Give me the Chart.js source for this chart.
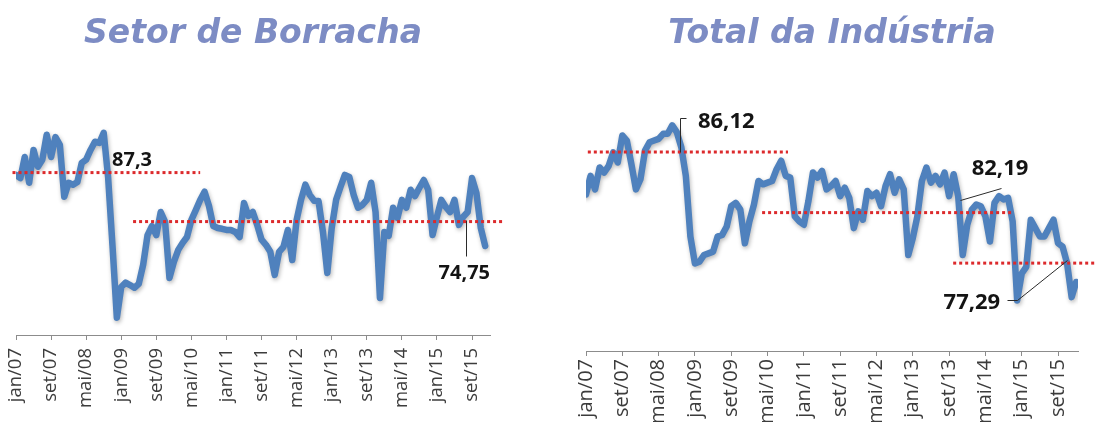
<!DOCTYPE html>
<html lang="pt-BR">
<head>
<meta charset="utf-8">
<title>Setor de Borracha / Total da Indústria</title>
<script src="https://cdn.jsdelivr.net/npm/chart.js@4.4.1/dist/chart.umd.min.js"></script>
<style>
  html, body { margin: 0; padding: 0; background: #fff; }
  #wrap { position: relative; width: 1096px; height: 422px; }
  .box { position: absolute; top: 0; width: 548px; height: 422px; }
  #left { left: 0; }
  #right { left: 548px; }
</style>
</head>
<body>
<div id="wrap">
  <div class="box" id="left"><canvas id="borracha"></canvas></div>
  <div class="box" id="right"><canvas id="industria"></canvas></div>
</div>
<script>
const MONTHS = ["jan", "fev", "mar", "abr", "mai", "jun", "jul", "ago", "set", "out", "nov", "dez"];

// one label every 8 months, starting at jan/07
const TICK_LABELS = [
    "jan/07", "set/07", "mai/08", "jan/09", "set/09", "mai/10", "jan/11",
    "set/11", "mai/12", "jan/13", "set/13", "mai/14", "jan/15", "set/15",
];
const TICK_EVERY = 8;

// jan/07 .. dez/15
const BORRACHA = [
    86.7, 85.9, 91.3, 84.7, 93.1, 88.8, 90.6, 97.0, 91.3, 96.4, 94.4, 81.1,
    84.7, 84.2, 84.9, 89.8, 90.6, 93.1, 95.2, 94.9, 97.5, 86.2, 68.7, 50.1,
    58.0, 59.1, 58.5, 57.8, 58.8, 63.7, 71.3, 73.6, 71.3, 77.2, 74.7, 60.3,
    64.4, 67.5, 69.3, 70.8, 75.2, 77.7, 80.3, 82.4, 78.8, 73.6, 73.1, 72.9,
    72.6, 72.6, 72.1, 70.8, 79.5, 76.2, 77.2, 73.9, 70.1, 68.8, 67.0, 61.1,
    67.0, 68.3, 72.6, 64.9, 75.2, 80.3, 84.2, 81.6, 80.1, 80.0, 72.1, 61.6,
    73.1, 80.3, 83.6, 86.7, 86.2, 81.6, 78.3, 79.0, 80.3, 84.7, 77.2, 55.2,
    72.1, 71.1, 78.3, 75.7, 80.3, 78.3, 82.9, 81.3, 83.4, 85.4, 82.9, 71.3,
    76.0, 80.3, 78.5, 77.2, 80.3, 73.9, 76.0, 77.2, 85.9, 82.1, 73.1, 68.5,
];
const BORRACHA_AVG = [87.3, 74.75];
const BORRACHA_AVG_SPAN = [[-0.8, 42], [26.7, 111.5]];
const BORRACHA_NOTES = ["87,3", "74,75"];

// jan/07 .. jan/16
const INDUSTRIA = [
    83.6, 84.7, 83.9, 85.2, 84.9, 85.3, 86.1, 85.5, 87.1, 86.8, 85.4, 83.9,
    84.5, 86.2, 86.7, 86.8, 86.9, 87.2, 87.2, 87.7, 87.3, 86.4, 84.7, 81.1,
    79.5, 79.6, 80.0, 80.1, 80.2, 81.1, 81.2, 81.7, 82.9, 83.1, 82.7, 80.7,
    82.0, 83.0, 84.4, 84.2, 84.3, 84.4, 85.1, 85.6, 84.7, 84.6, 82.3, 82.0,
    81.8, 83.2, 84.9, 84.6, 85.0, 83.9, 84.1, 84.4, 83.5, 84.0, 83.4, 81.6,
    82.6, 82.1, 83.8, 83.5, 83.7, 82.9, 84.1, 84.8, 83.7, 84.5, 83.9, 80.0,
    81.0, 82.3, 84.4, 85.2, 84.3, 84.7, 84.2, 84.9, 83.5, 84.8, 83.5, 80.0,
    81.8, 82.7, 83.0, 82.9, 82.3, 80.8, 83.1, 83.5, 83.3, 83.4, 82.0, 77.3,
    78.9, 79.3, 82.1, 81.6, 81.1, 81.1, 81.6, 82.1, 80.7, 80.5, 79.5, 77.5,
    78.4,
];
const INDUSTRIA_AVG = [86.12, 82.52, 79.52];
const INDUSTRIA_AVG_SPAN = [[0.4, 44.5], [38.8, 93.9], [80.9, 112.4]];
const INDUSTRIA_NOTES = ["86,12", "82,19", "77,29"];

const monthLabel = (i) =>
    MONTHS[i % 12] + "/" + String(7 + Math.floor(i / 12)).padStart(2, "0");

// soft drop shadow under the blue series, like the Excel line effect
const lineShadow = {
    id: "lineShadow",
    beforeDatasetDraw(chart, args) {
        if (args.index !== 0) return;
        const ctx = chart.ctx;
        ctx.save();
        ctx.shadowColor = "rgba(0, 0, 0, 0.28)";
        ctx.shadowBlur = 4;
        ctx.shadowOffsetX = 1;
        ctx.shadowOffsetY = 2;
    },
    afterDatasetDraw(chart, args) {
        if (args.index === 0) chart.ctx.restore();
    },
};

// value labels with their thin leader lines
const notes = {
    id: "notes",
    afterDatasetsDraw(chart, args, opts) {
        const { ctx } = chart;
        const { x, y } = chart.scales;
        ctx.save();
        ctx.strokeStyle = "#2b2b2b";
        ctx.lineWidth = 1;
        ctx.fillStyle = "#141414";
        ctx.font = `bold ${opts.size}px "Open Sans"`;
        ctx.textBaseline = "middle";
        for (const n of opts.items) {
            const px = x.getPixelForValue(n.at[0]);
            const py = y.getPixelForValue(n.at[1]);
            if (n.path) {
                ctx.beginPath();
                n.path.forEach(([dx, dy], k) => {
                    const fn = k ? "lineTo" : "moveTo";
                    ctx[fn](Math.round(px + dx) + 0.5, Math.round(py + dy) + 0.5);
                });
                ctx.stroke();
            }
            ctx.textAlign = n.align || "center";
            ctx.fillText(n.text, px + n.textAt[0], py + n.textAt[1]);
        }
        ctx.restore();
    },
};

function makeChart(id, c) {
    const datasets = [
        {
            label: c.title,
            data: c.values.map((v, i) => ({ x: i, y: v })),
            borderColor: "#4f81bd",
            borderWidth: 6.5,
            borderJoinStyle: "round",
            borderCapStyle: "round",
            pointRadius: 0,
            tension: 0,
            order: 1,
        },
        ...c.levels.map((lv, k) => ({
            label: "média " + (k + 1),
            data: c.spans[k].map((m) => ({ x: m, y: lv })),
            borderColor: "#dc2a2c",
            borderWidth: 3,
            borderDash: [3, 3],
            borderCapStyle: "butt",
            pointRadius: 0,
            clip: false,
            order: 0,
        })),
    ];

    return new Chart(document.getElementById(id), {
        type: "line",
        data: { labels: c.values.map((_, i) => monthLabel(i)), datasets },
        plugins: [lineShadow, notes],
        options: {
            responsive: true,
            maintainAspectRatio: false,
            animation: false,
            devicePixelRatio: 1,
            layout: { padding: c.pad },
            scales: {
                x: {
                    type: "linear",
                    min: 0,
                    max: c.xMax,
                    afterBuildTicks: (scale) => {
                        scale.ticks = TICK_LABELS.map((_, k) => ({ value: k * TICK_EVERY }));
                    },
                    afterFit: (scale) => {
                        scale.height = c.axisHeight;
                    },
                    ticks: {
                        autoSkip: false,
                        minRotation: 90,
                        maxRotation: 90,
                        padding: c.tickPad,
                        color: "#3c3c3c",
                        font: { family: "Open Sans", size: c.tickSize },
                        callback: (v, i) => TICK_LABELS[i],
                    },
                    grid: {
                        drawOnChartArea: false,
                        drawTicks: true,
                        tickLength: 5,
                        color: "#8c8c8c",
                    },
                    border: { display: true, color: "#8c8c8c", width: 1 },
                },
                y: { display: false, min: c.yMin, max: c.yMax },
            },
            plugins: {
                legend: { display: false },
                tooltip: { enabled: false },
                title: {
                    display: true,
                    text: c.title,
                    color: "#7d8cc4",
                    font: { family: "DejaVu Sans", size: 33, weight: "bold", style: "italic" },
                    padding: { top: 15, bottom: c.titleGap },
                },
                notes: { size: c.noteSize, items: c.notes },
            },
        },
    });
}

makeChart("borracha", {
    title: "Setor de Borracha",
    values: BORRACHA,
    levels: BORRACHA_AVG,
    spans: BORRACHA_AVG_SPAN,
    xMax: 108.1,
    yMin: 45.7,
    yMax: 104.1,
    pad: { left: 16, right: 58, top: 0, bottom: 0 },
    titleGap: 52.4,
    axisHeight: 87,
    tickPad: 8,
    tickSize: 18.5,
    noteSize: 20,
    notes: [
        { text: BORRACHA_NOTES[0], at: [21.9, BORRACHA_AVG[0]], textAt: [0, -12], align: "left" },
        {
            text: BORRACHA_NOTES[1],
            at: [102.7, BORRACHA_AVG[1]],
            path: [[0, -2], [0, 34]],
            textAt: [-2, 52],
        },
    ],
});

makeChart("industria", {
    title: "Total da Indústria",
    values: INDUSTRIA,
    levels: INDUSTRIA_AVG,
    spans: INDUSTRIA_AVG_SPAN,
    xMax: 108.4,
    yMin: 74.3,
    yMax: 90.1,
    pad: { left: 38, right: 18, top: 0, bottom: 0 },
    titleGap: 30.4,
    axisHeight: 71,
    tickPad: 3,
    tickSize: 20,
    noteSize: 22,
    notes: [
        {
            text: INDUSTRIA_NOTES[0],
            at: [20.7, INDUSTRIA_AVG[0]],
            path: [[0, 0], [0, -34], [6, -34]],
            textAt: [18, -30],
            align: "left",
        },
        {
            text: INDUSTRIA_NOTES[1],
            at: [82.4, 83.27],
            path: [[0, 0], [41, -12]],
            textAt: [40, -31],
        },
        {
            text: INDUSTRIA_NOTES[2],
            at: [95, INDUSTRIA[95]],
            path: [[-10, 0], [0, 0], [50, -40]],
            textAt: [-17, 2],
            align: "right",
        },
    ],
});
</script>
</body>
</html>
